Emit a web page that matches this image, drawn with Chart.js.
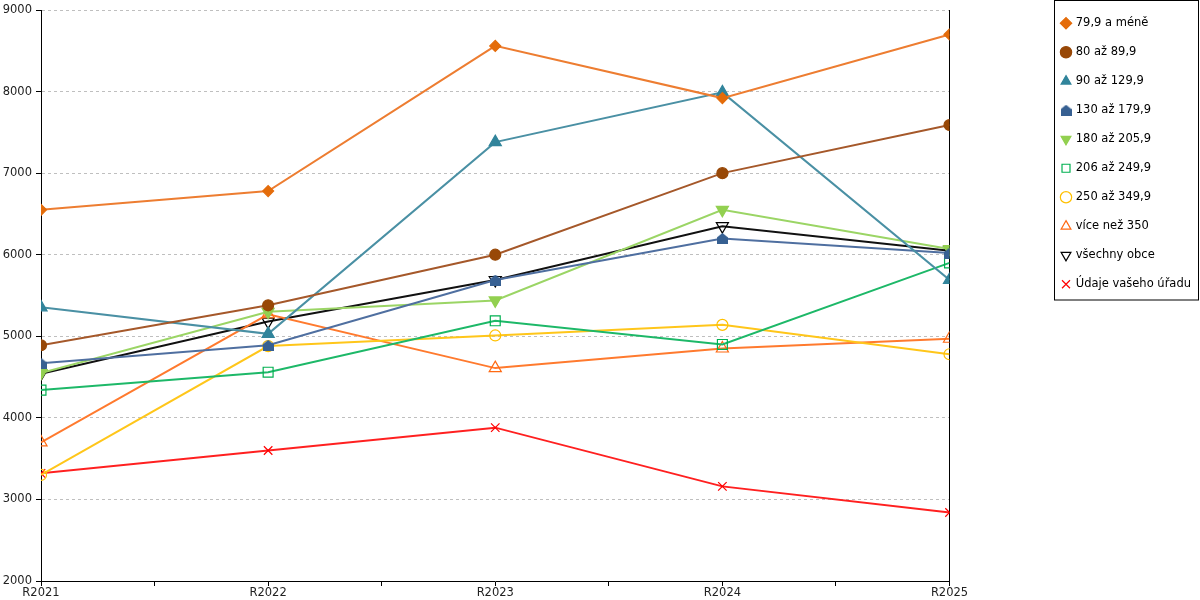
<!DOCTYPE html>
<html>
<head>
<meta charset="utf-8">
<script src="https://cdn.jsdelivr.net/npm/chart.js@4/dist/chart.umd.min.js"></script>
<style>
  html, body { margin: 0; padding: 0; background: #fff; }
  #wrap { width: 1200px; height: 600px; }
</style>
</head>
<body>
<div id="wrap"><canvas id="c"></canvas></div>
<script>
// categories + series
const years = ["R2021", "R2022", "R2023", "R2024", "R2025"];
const seriesNames = [
  "79,9 a méně", "80 až 89,9", "90 až 129,9", "130 až 179,9", "180 až 205,9",
  "206 až 249,9", "250 až 349,9", "více než 350", "všechny obce", "Údaje vašeho úřadu"
];
const s79 = [6550, 6780, 8560, 7920, 8700];
const s80 = [4890, 5380, 6000, 7000, 7590];
const s90 = [5355, 5030, 7380, 7990, 5690];
const s130 = [4670, 4890, 5690, 6200, 6020];
const s180 = [4550, 5300, 5440, 6550, 6070];
const s206 = [4340, 4560, 5190, 4900, 5900];
const s250 = [3300, 4880, 5010, 5140, 4780];
const s350 = [3700, 5270, 4610, 4850, 4970];
const sAll = [4540, 5180, 5690, 6350, 6050];
const sUrad = [3320, 3600, 3880, 3160, 2840];
const yTicks = { min: 2000, max: 9000, step: 1000 };

// "house" marker (pentagon) - no built-in point style for it
function houseMarker(color, size) {
  const cv = document.createElement("canvas");
  cv.width = size; cv.height = size;
  const g = cv.getContext("2d");
  g.fillStyle = color;
  g.beginPath();
  g.moveTo(size / 2, 0);
  g.lineTo(size, size * 0.42);
  g.lineTo(size, size);
  g.lineTo(0, size);
  g.lineTo(0, size * 0.42);
  g.closePath();
  g.fill();
  return cv;
}

const toPts = (arr) => arr.map((v, i) => ({ x: i, y: v }));
const none = "rgba(0,0,0,0)";

function series(label, values, line, mark, style, filled, opts) {
  return Object.assign({
    label: label,
    data: toPts(values),
    borderColor: line,
    borderWidth: 2,
    backgroundColor: filled ? mark : none,
    pointStyle: style,
    pointRadius: 5.5,
    pointBackgroundColor: filled ? mark : none,
    pointBorderColor: mark,
    pointBorderWidth: 1.2,
    tension: 0
  }, opts || {});
}

const datasets = [
  series(seriesNames[0], s79, "#ED7D31", "#E46C0A", "rectRot", true),
  series(seriesNames[1], s80, "#A5582A", "#984807", "circle", true),
  series(seriesNames[2], s90, "#4A90A4", "#31849B", "triangle", true, { pointRadius: 7 }),
  series(seriesNames[3], s130, "#4F6FA0", "#376092", houseMarker("#376092", 11), true),
  series(seriesNames[4], s180, "#9BD565", "#92D050", "triangle", true, { pointRadius: 7, pointRotation: 180 }),
  series(seriesNames[5], s206, "#1DB868", "#00B050", "rect", false, { pointRadius: 7 }),
  series(seriesNames[6], s250, "#FFC61A", "#FFC000", "circle", false),
  series(seriesNames[7], s350, "#FF7A2E", "#FF6A13", "triangle", false, { pointRadius: 7 }),
  series(seriesNames[8], sAll, "#111111", "#000000", "triangle", false, { pointRadius: 7, pointRotation: 180 }),
  series(seriesNames[9], sUrad, "#FF2020", "#FF0000", "crossRot", false, { pointRadius: 6 })
];

// frame round the legend
const legendFrame = {
  id: "legendFrame",
  afterDraw(chart) {
    const lg = chart.legend;
    if (!lg || !lg.legendHitBoxes || !lg.legendHitBoxes.length) return;
    const hb = lg.legendHitBoxes;
    const x0 = Math.round(hb[0].left) - 7.5;
    const y1 = Math.round(hb[hb.length - 1].top + hb[hb.length - 1].height) + 9.5;
    const ctx = chart.ctx;
    ctx.save();
    ctx.strokeStyle = "#000";
    ctx.lineWidth = 1;
    ctx.strokeRect(x0, 0.5, chart.width - 1.5 - x0, y1);
    ctx.restore();
  }
};

const tickFont = { family: "DejaVu Sans", size: 11.5 };

new Chart(document.getElementById("c"), {
  type: "line",
  data: { datasets: datasets },
  options: {
    responsive: true,
    maintainAspectRatio: false,
    animation: false,
    layout: { padding: { top: 0, left: 0, right: -1, bottom: 0 } },
    plugins: {
      legend: {
        position: "right",
        align: "start",
        labels: {
          usePointStyle: true,
          boxWidth: 8,
          boxHeight: 8,
          padding: 17.5,
          color: "#000",
          font: { family: "DejaVu Sans", size: 11.5 }
        }
      },
      tooltip: { enabled: false }
    },
    scales: {
      x: {
        type: "linear",
        min: 0,
        max: years.length - 1,
        afterFit(scale) { scale.height = 19; },
        ticks: {
          stepSize: 0.5,
          autoSkip: false,
          maxRotation: 0,
          padding: 0,
          color: "#222",
          font: tickFont,
          callback: (v) => Number.isInteger(v) ? years[v] : ""
        },
        grid: { drawOnChartArea: false, drawTicks: true, tickLength: 5, tickColor: "#000" },
        border: { color: "#000", width: 1 }
      },
      y: {
        min: yTicks.min,
        max: yTicks.max,
        afterFit(scale) { scale.width = 41; scale.paddingTop = 10; },
        ticks: { stepSize: yTicks.step, padding: 4, color: "#222", font: tickFont, callback: (v) => String(v) },
        grid: { color: "#BFBFBF", lineWidth: 1, tickLength: 5, tickColor: "#000" },
        border: { color: "#000", width: 1, dash: [3, 3] }
      },
      y2: {
        position: "right",
        min: yTicks.min,
        max: yTicks.max,
        afterFit(scale) { scale.width = 95; },
        ticks: { display: false },
        grid: { display: false },
        border: { color: "#000", width: 1 }
      }
    }
  },
  plugins: [legendFrame]
});
</script>
</body>
</html>
